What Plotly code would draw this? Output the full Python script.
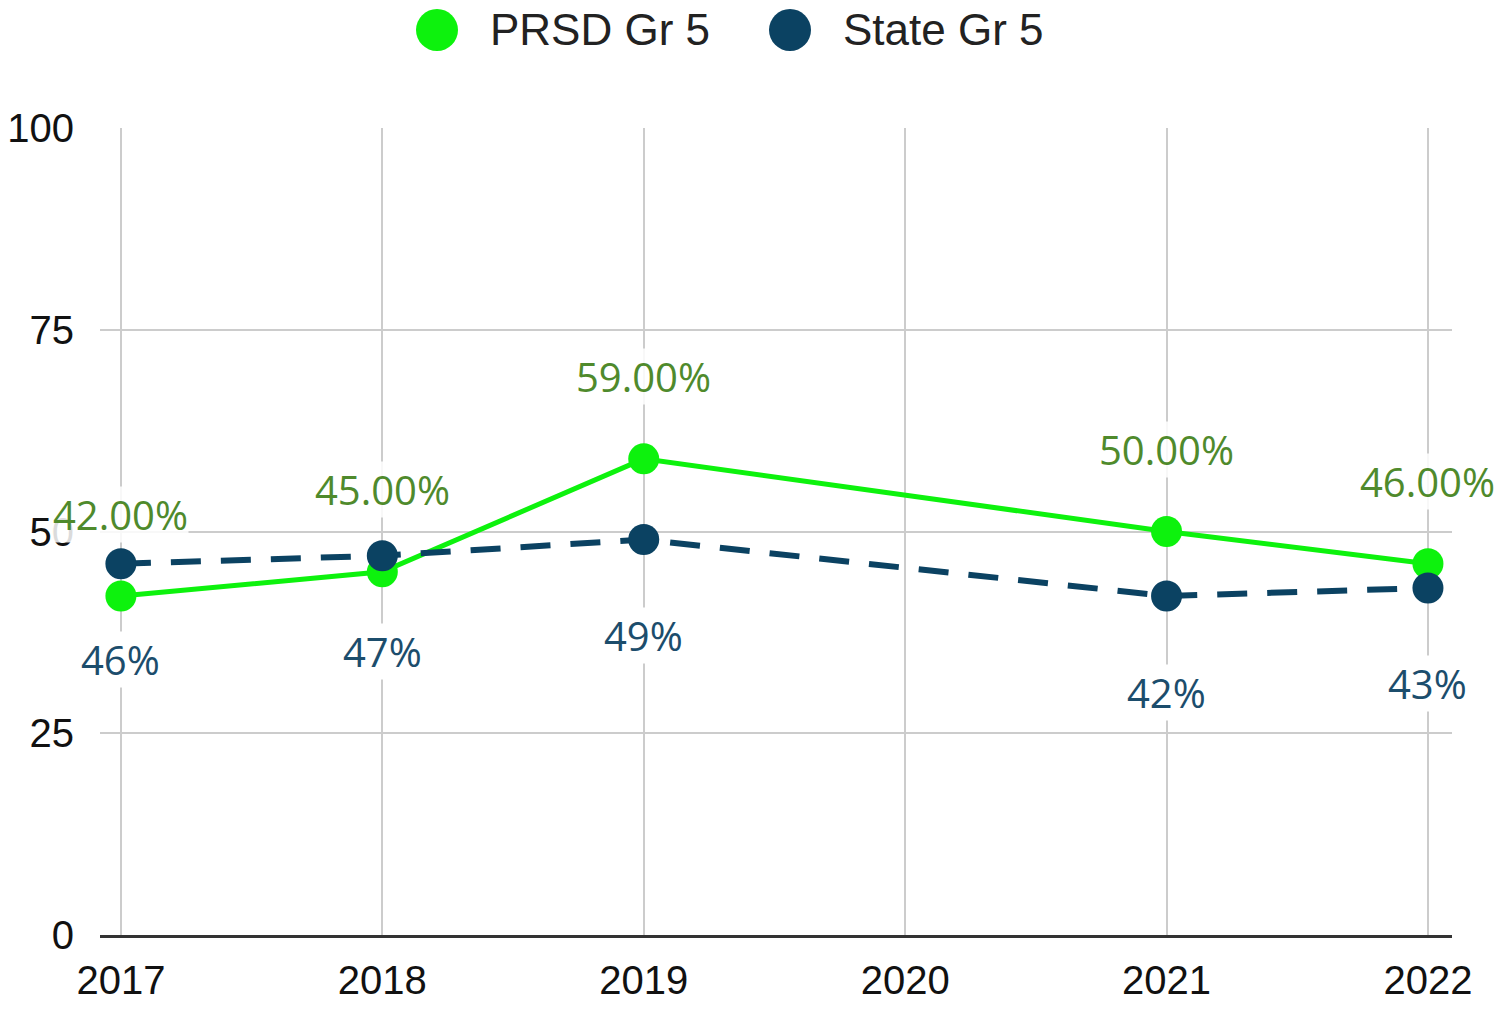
import plotly.graph_objects as go

years = [2017, 2018, 2019, 2020, 2021, 2022]
tick_labels = ["2017", "2018", "2019", "2020", "2021", "2022"]
prsd = [42, 45, 59, None, 50, 46]
state = [46, 47, 49, None, 42, 43]
series_names = ["PRSD Gr 5", "State Gr 5"]
y_ticks = [0, 25, 50, 75, 100]

GREEN = "#0df20d"
NAVY = "#0b4262"
GREEN_LBL = "#4f8a2c"
NAVY_LBL = "#1c4d6c"

W, H = 1504, 1009
ML, MR, MT, MB = 100, 52, 128, 74
PW, PH = W - ML - MR, H - MT - MB


def px_x(px):
    return (px - ML) / PW


def px_y(py):
    return (H - MB - py) / PH


fig = go.Figure()
fig.add_trace(go.Scatter(
    x=years, y=prsd, mode="lines+markers", name=series_names[0],
    connectgaps=True, showlegend=False,
    line=dict(color=GREEN, width=5),
    marker=dict(color=GREEN, size=31),
))
fig.add_trace(go.Scatter(
    x=years, y=state, mode="lines+markers", name=series_names[1],
    connectgaps=True, showlegend=False,
    line=dict(color=NAVY, width=6, dash="30px,20px"),
    marker=dict(color=NAVY, size=31),
))

annotations = []
for x, v in zip(years, prsd):
    if v is None:
        continue
    annotations.append(dict(
        x=x, y=v, xref="x", yref="y", text=f"{v:.2f}%", showarrow=False,
        yshift=82, font=dict(family="Open Sans", size=40, color=GREEN_LBL),
        bgcolor="rgba(255,255,255,0.85)", borderpad=0,
    ))
for x, v in zip(years, state):
    if v is None:
        continue
    annotations.append(dict(
        x=x, y=v, xref="x", yref="y", text=f"{v:.0f}%", showarrow=False,
        yshift=-96, font=dict(family="Open Sans", size=40, color=NAVY_LBL),
        bgcolor="white", borderpad=0,
    ))

# legend (drawn manually for large symbols)
legend_items = [(series_names[0], GREEN, 437, 488), (series_names[1], NAVY, 790, 841)]
shapes = []
for name, color, cx, tx in legend_items:
    shapes.append(dict(
        type="circle", xref="paper", yref="paper",
        xsizemode="pixel", ysizemode="pixel",
        xanchor=px_x(cx), yanchor=px_y(30),
        x0=-21, x1=21, y0=-21, y1=21,
        fillcolor=color, line=dict(width=0),
    ))
    annotations.append(dict(
        x=px_x(tx), y=px_y(30), xref="paper", yref="paper",
        xanchor="left", yanchor="middle", text=name, showarrow=False,
        font=dict(family="Liberation Sans", size=44, color="#222222"),
    ))

fig.update_layout(
    width=W, height=H,
    margin=dict(l=ML, r=MR, t=MT, b=MB, pad=0, autoexpand=False),
    paper_bgcolor="white", plot_bgcolor="white",
    showlegend=False,
    annotations=annotations,
    shapes=shapes,
    font=dict(family="Liberation Sans", size=40, color="#111111"),
)
fig.update_xaxes(
    range=[2016.92, 2022.092],
    tickvals=years, ticktext=tick_labels,
    showgrid=True, gridcolor="#cccccc", gridwidth=2,
    showline=True, linecolor="#333333", linewidth=3,
    zeroline=False, ticks="", ticklabelstandoff=8, automargin=False,
    tickfont=dict(family="Liberation Sans", size=40, color="#111111"),
)
fig.update_yaxes(
    range=[0, 100], tickvals=y_ticks,
    showgrid=True, gridcolor="#cccccc", gridwidth=2,
    zeroline=False, showline=False, ticks="", ticklabelstandoff=25, automargin=False,
    tickfont=dict(family="Liberation Sans", size=40, color="#111111"),
)

fig.write_html(
    "out.html",
    config={"displayModeBar": False},
    post_script="document.body.style.margin='0';document.body.style.overflow='hidden';",
)
